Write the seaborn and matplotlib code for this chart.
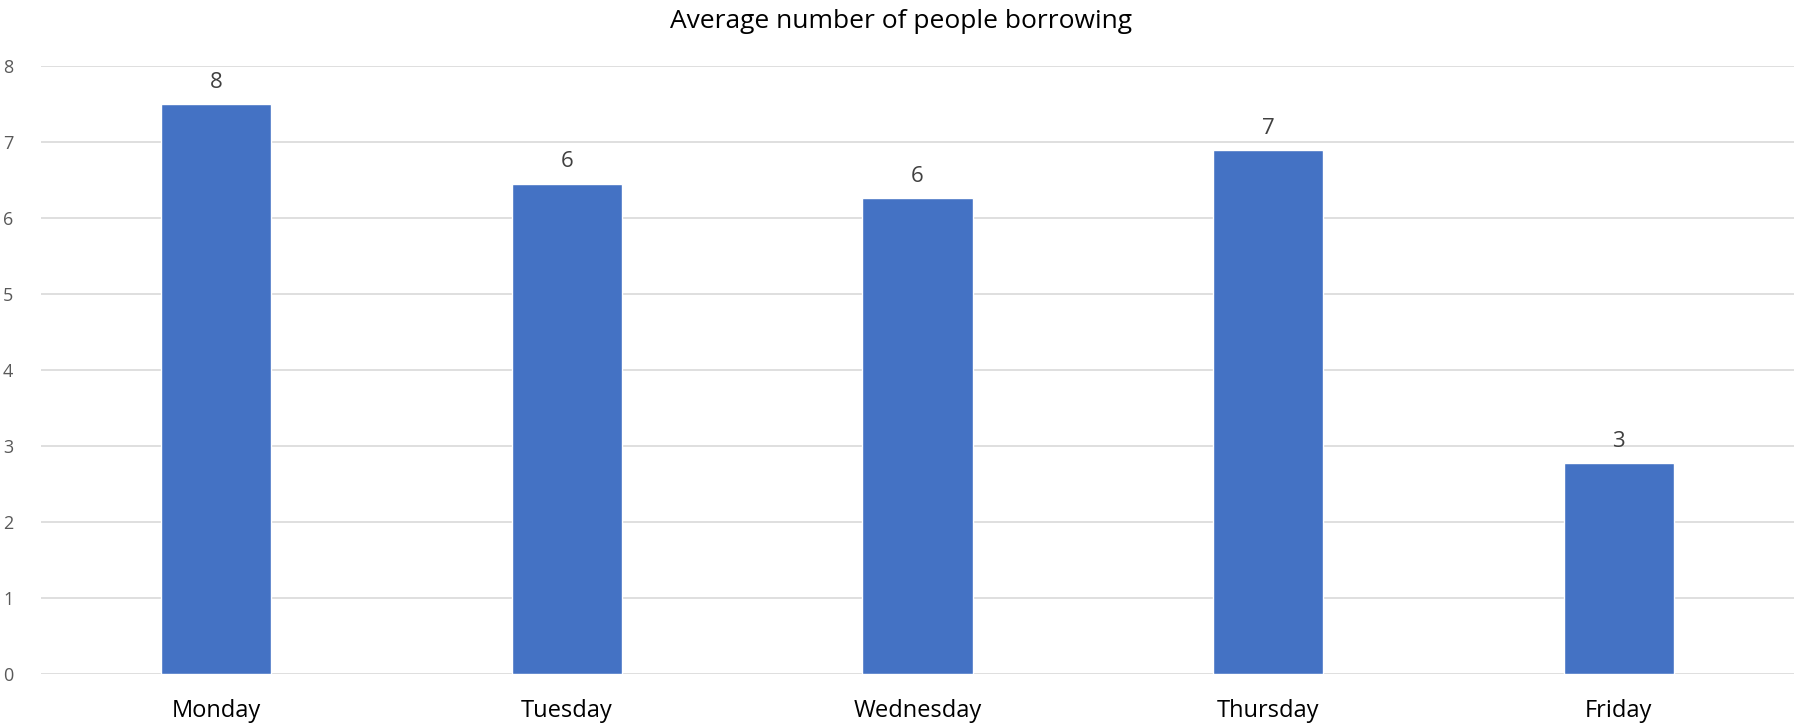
import matplotlib
matplotlib.use("Agg")
import matplotlib.pyplot as plt
import seaborn as sns
import pandas as pd

days = ["Monday", "Tuesday", "Wednesday", "Thursday", "Friday"]
avg_borrowers = [7.50, 6.45, 6.26, 6.89, 2.77]
y_ticks = [0, 1, 2, 3, 4, 5, 6, 7, 8]

df = pd.DataFrame({"day": days, "avg": avg_borrowers})

sns.set_style("white")
plt.rcParams["font.family"] = ["Open Sans", "DejaVu Sans"]

W, H = 1801, 726
fig = plt.figure(figsize=(W / 100, H / 100), dpi=100)
ax = fig.add_axes([41 / W, (H - 674) / H, 1753 / W, (674 - 65.7) / H])

sns.barplot(data=df, x="day", y="avg", color="#4472C4", saturation=1,
            width=0.314, ax=ax, zorder=3)

ax.set_ylim(0, 8)
ax.set_xlim(-0.5, len(days) - 0.5)
ax.set_yticks(y_ticks)
ax.yaxis.grid(True, color="#D9D9D9", linewidth=1.2, zorder=0)
ax.xaxis.grid(False)
for s in ax.spines.values():
    s.set_visible(False)
ax.tick_params(axis="y", length=0, pad=20, labelsize=13, labelcolor="#595959")
ax.tick_params(axis="x", length=0, pad=18, labelsize=17, labelcolor="#000000")
ax.set_xlabel("")
ax.set_ylabel("")

for i, v in enumerate(avg_borrowers):
    ax.annotate(f"{v:.0f}", (i, v), xytext=(0, 8), textcoords="offset points",
                ha="center", va="bottom", fontsize=16, color="#404040")

fig.text(0.5, 1 - 22 / H, "Average number of people borrowing",
         ha="center", va="center", fontsize=19, color="#000000")

fig.savefig("out.png", dpi=100, facecolor="white")
